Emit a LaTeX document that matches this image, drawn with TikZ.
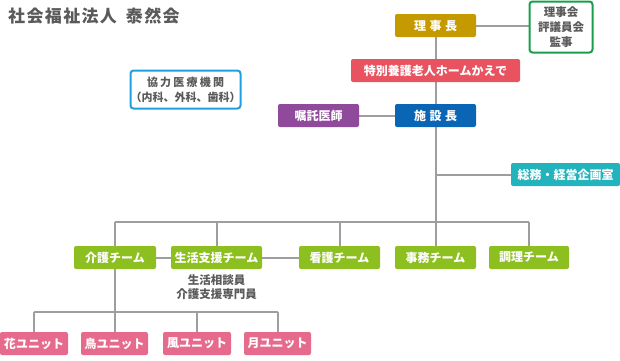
\documentclass[tikz,border=0pt]{standalone}
\usepackage{fontspec}
\setmainfont{Noto Sans CJK JP}
\usetikzlibrary{backgrounds}
\definecolor{lineg}{HTML}{9E9E9E}
\definecolor{gold}{HTML}{C49A00}
\definecolor{redc}{HTML}{E8535F}
\definecolor{bluec}{HTML}{0A66B4}
\definecolor{purp}{HTML}{8F4A9B}
\definecolor{teal}{HTML}{22B3BC}
\definecolor{greenc}{HTML}{8CBF1F}
\definecolor{pinkc}{HTML}{E66A8C}
\definecolor{greenb}{HTML}{1A9E4A}
\definecolor{skyb}{HTML}{1BA1E2}
\definecolor{txtg}{HTML}{5A5A5A}
\tikzset{
  fbox/.style={rounded corners=2pt, text=white, font=\bfseries\fontsize{12}{14}\selectfont, minimum height=23pt, inner sep=0pt, draw=none},
  obox/.style={rounded corners=3pt, fill=white, text=txtg, line width=2pt, align=center, inner sep=0pt},
  conn/.style={draw=lineg, line width=2pt},
}
\begin{document}
\begin{tikzpicture}[x=1pt,y=-1pt]
\useasboundingbox (0,0) rectangle (620,360);
\node[anchor=west, text=txtg, font=\bfseries\fontsize{17}{18}\selectfont\addfontfeature{LetterSpace=8}, inner sep=0pt] (title) at (8,16) {社会福祉法人\hspace{9pt}泰然会};
\node[fbox, fill=gold, minimum width=81pt] (rijicho) at (435.5,25.5) {理\hspace{3.5pt}事\hspace{3.5pt}長};
\node[obox, draw=greenb, minimum width=63pt, minimum height=51pt, font=\bfseries\fontsize{11.5}{15}\selectfont] (rijikai) at (561,27) {理事会\\評議員会\\監事};
\node[fbox, fill=redc, minimum width=169pt] (kaede) at (435.5,70.5) {特別養護老人ホームかえで};
\node[fbox, fill=bluec, minimum width=81pt] (shisetsu) at (435.5,115.5) {施\hspace{3.5pt}設\hspace{3.5pt}長};
\node[fbox, fill=purp, minimum width=81pt] (ishi) at (318.5,115.5) {嘱託医師};
\node[fbox, fill=teal, minimum width=109pt] (somu) at (565.5,174.5) {総務・経営企画室};
\node[obox, draw=skyb, minimum width=106pt, minimum height=38pt, font=\bfseries\fontsize{11}{15}\selectfont] (kyoryoku) at (185.5,89.5) {{\addfontfeature{LetterSpace=20}協力医療機関}\\（内科、外科、歯科）};
\node[fbox, fill=greenc, minimum width=82pt] (kaigo) at (115,257.5) {介護チーム};
\node[fbox, fill=greenc, minimum width=91pt] (seikatsu) at (216.5,257.5) {生活支援チーム};
\node[fbox, fill=greenc, minimum width=81pt] (kango) at (339.5,257.5) {看護チーム};
\node[fbox, fill=greenc, minimum width=81pt] (jimu) at (435.5,257.5) {事務チーム};
\node[fbox, fill=greenc, minimum width=80pt] (chori) at (529,257.5) {調理チーム};
\node[text=txtg, font=\bfseries\fontsize{11.5}{14}\selectfont, align=center, inner sep=0pt] (staff) at (216.5,287) {生活相談員\\介護支援専門員};
\node[fbox, fill=pinkc, minimum width=68pt] (hana) at (34,343.5) {花ユニット};
\node[fbox, fill=pinkc, minimum width=67pt] (tori) at (114.5,343.5) {鳥ユニット};
\node[fbox, fill=pinkc, minimum width=68pt] (kaze) at (197,343.5) {風ユニット};
\node[fbox, fill=pinkc, minimum width=67pt] (tsuki) at (277.5,343.5) {月ユニット};
\coordinate (bus) at (435.5,222);
\coordinate (busL) at (115,222);
\coordinate (busR) at (529,222);
\coordinate (branch) at (435.5,174.5);
\coordinate (ubus) at (115,312);
\coordinate (ubusL) at (34,312);
\coordinate (ubusR) at (277.5,312);
\begin{scope}[on background layer]
\draw[conn] (rijicho) -- (shisetsu);
\draw[conn] (rijicho.east) -- (rijicho.east -| rijikai.west);
\draw[conn] (ishi.east) -- (shisetsu.west);
\draw[conn] (shisetsu.south) -- (jimu.north);
\draw[conn] (branch) -- (somu.west);
\draw[conn] (busL) -- (busR);
\draw[conn] (busL) -- (kaigo.north);
\draw[conn] (seikatsu.north |- bus) -- (seikatsu.north);
\draw[conn] (kango.north |- bus) -- (kango.north);
\draw[conn] (busR) -- (chori.north);
\draw[conn] (kaigo.east) -- (seikatsu.west);
\draw[conn] (seikatsu.east) -- (kango.west);
\draw[conn] (kaigo.south) -- (ubus);
\draw[conn] (ubusL) -- (ubusR);
\draw[conn] (ubusL) -- (hana.north);
\draw[conn] (tori.north |- ubus) -- (tori.north);
\draw[conn] (kaze.north |- ubus) -- (kaze.north);
\draw[conn] (ubusR) -- (tsuki.north);
\end{scope}
\end{tikzpicture}
\end{document}
